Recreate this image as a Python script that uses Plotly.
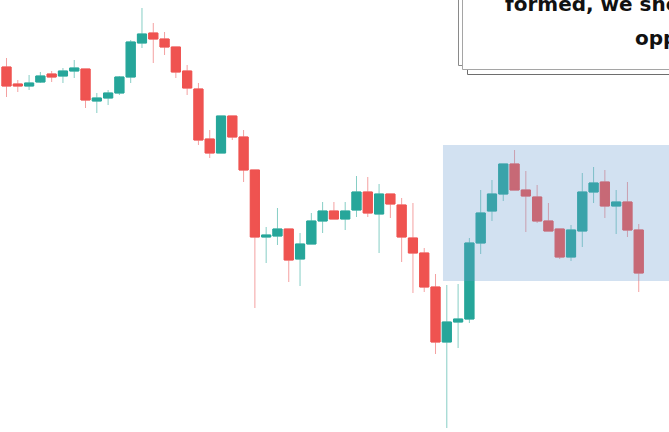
import plotly.graph_objects as go

# candle index
idx = list(range(57))
open_ = [365, 348, 346, 350, 358, 356, 361, 363, 331, 334, 339, 355, 389, 399, 393, 385, 361, 343, 293, 279,
         316, 295, 262, 195, 196, 203, 173, 188, 211, 221, 213, 222, 240, 218, 238, 227, 194, 179, 145, 90,
         110, 113, 189, 221, 238, 268, 242, 235, 211, 203, 175, 201, 240, 250, 226, 230, 202]
high = [374, 352, 357, 360, 361, 364, 372, 363, 339, 342, 356, 392, 424, 409, 400, 385, 367, 349, 302, 316,
        316, 302, 262, 205, 224, 203, 199, 219, 230, 230, 230, 256, 255, 248, 238, 234, 229, 184, 158, 147,
        148, 194, 242, 252, 268, 282, 261, 247, 229, 203, 207, 259, 265, 262, 242, 250, 208]
low = [335, 340, 342, 349, 350, 349, 354, 324, 319, 327, 337, 349, 384, 369, 377, 354, 337, 287, 274, 279,
       292, 250, 124, 169, 187, 150, 146, 188, 199, 213, 202, 215, 215, 179, 214, 170, 139, 140, 78, 4,
       84, 109, 178, 211, 231, 242, 200, 209, 201, 173, 171, 185, 229, 214, 198, 195, 140]
close = [346, 346, 349, 356, 355, 361, 364, 332, 334, 339, 355, 390, 398, 393, 385, 360, 344, 292, 279, 316,
         295, 262, 195, 197, 203, 172, 188, 211, 221, 213, 221, 240, 219, 238, 228, 195, 179, 145, 90, 110,
         113, 189, 219, 238, 268, 242, 236, 211, 201, 175, 202, 240, 249, 226, 230, 202, 159]

body_hi = [max(o, c) for o, c in zip(open_, close)]
body_lo = [min(o, c) for o, c in zip(open_, close)]

RED = "#ef5350"
GREEN = "#26a69a"

fig = go.Figure()
# wicks (lighter)
fig.add_trace(go.Candlestick(
    x=idx, open=open_, high=high, low=low, close=close,
    increasing=dict(line=dict(color="#86cec5", width=1), fillcolor=GREEN),
    decreasing=dict(line=dict(color="#f4a0a0", width=1), fillcolor=RED),
    showlegend=False, hoverinfo="skip"))
# solid bodies
fig.add_trace(go.Candlestick(
    x=idx, open=open_, high=body_hi, low=body_lo, close=close,
    increasing=dict(line=dict(color=GREEN, width=1), fillcolor=GREEN),
    decreasing=dict(line=dict(color=RED, width=1), fillcolor=RED),
    showlegend=False))

W, H = 669, 432
def px(x):
    return x / W
def py(y):
    return 1 - y / H

shapes = [
    # highlighted zone
    dict(type="rect", xref="x", yref="y", x0=38.66, x1=62, y0=151, y1=287,
         fillcolor="rgba(106,155,208,0.3)", line=dict(width=0), layer="above"),
    # text box (layered borders)
    dict(type="rect", xref="paper", yref="paper", x0=px(467.5), x1=1.3, y0=py(74.5), y1=1.2,
         fillcolor="white", line=dict(color="#6e6e6e", width=1), layer="above"),
    dict(type="rect", xref="paper", yref="paper", x0=px(458.5), x1=1.3, y0=py(65.5), y1=1.2,
         fillcolor="white", line=dict(color="#8a8a8a", width=1), layer="above"),
    dict(type="rect", xref="paper", yref="paper", x0=px(462.5), x1=1.3, y0=py(69.5), y1=1.2,
         fillcolor="white", line=dict(color="#a5a5a5", width=1), layer="above"),
]

annotations = [
    dict(text="formed, we should", xref="paper", yref="paper", x=px(503), y=py(4),
         xanchor="left", yanchor="middle", showarrow=False,
         font=dict(family="DejaVu Sans", size=20, color="#111111", weight="bold")),
    dict(text="opportunities", xref="paper", yref="paper", x=px(633), y=py(38),
         xanchor="left", yanchor="middle", showarrow=False,
         font=dict(family="DejaVu Sans", size=20, color="#111111", weight="bold")),
]

fig.update_layout(
    width=W, height=H, margin=dict(l=0, r=0, t=0, b=0),
    paper_bgcolor="white", plot_bgcolor="white",
    xaxis=dict(range=[-0.576, 58.68], visible=False, rangeslider=dict(visible=False)),
    yaxis=dict(range=[0, 432], visible=False),
    boxgap=0.1, boxgroupgap=0.1,
    shapes=shapes, annotations=annotations,
)

fig.write_html("out.html", config={"displayModeBar": False},
               post_script="document.body.style.margin='0';document.body.style.overflow='hidden';")
